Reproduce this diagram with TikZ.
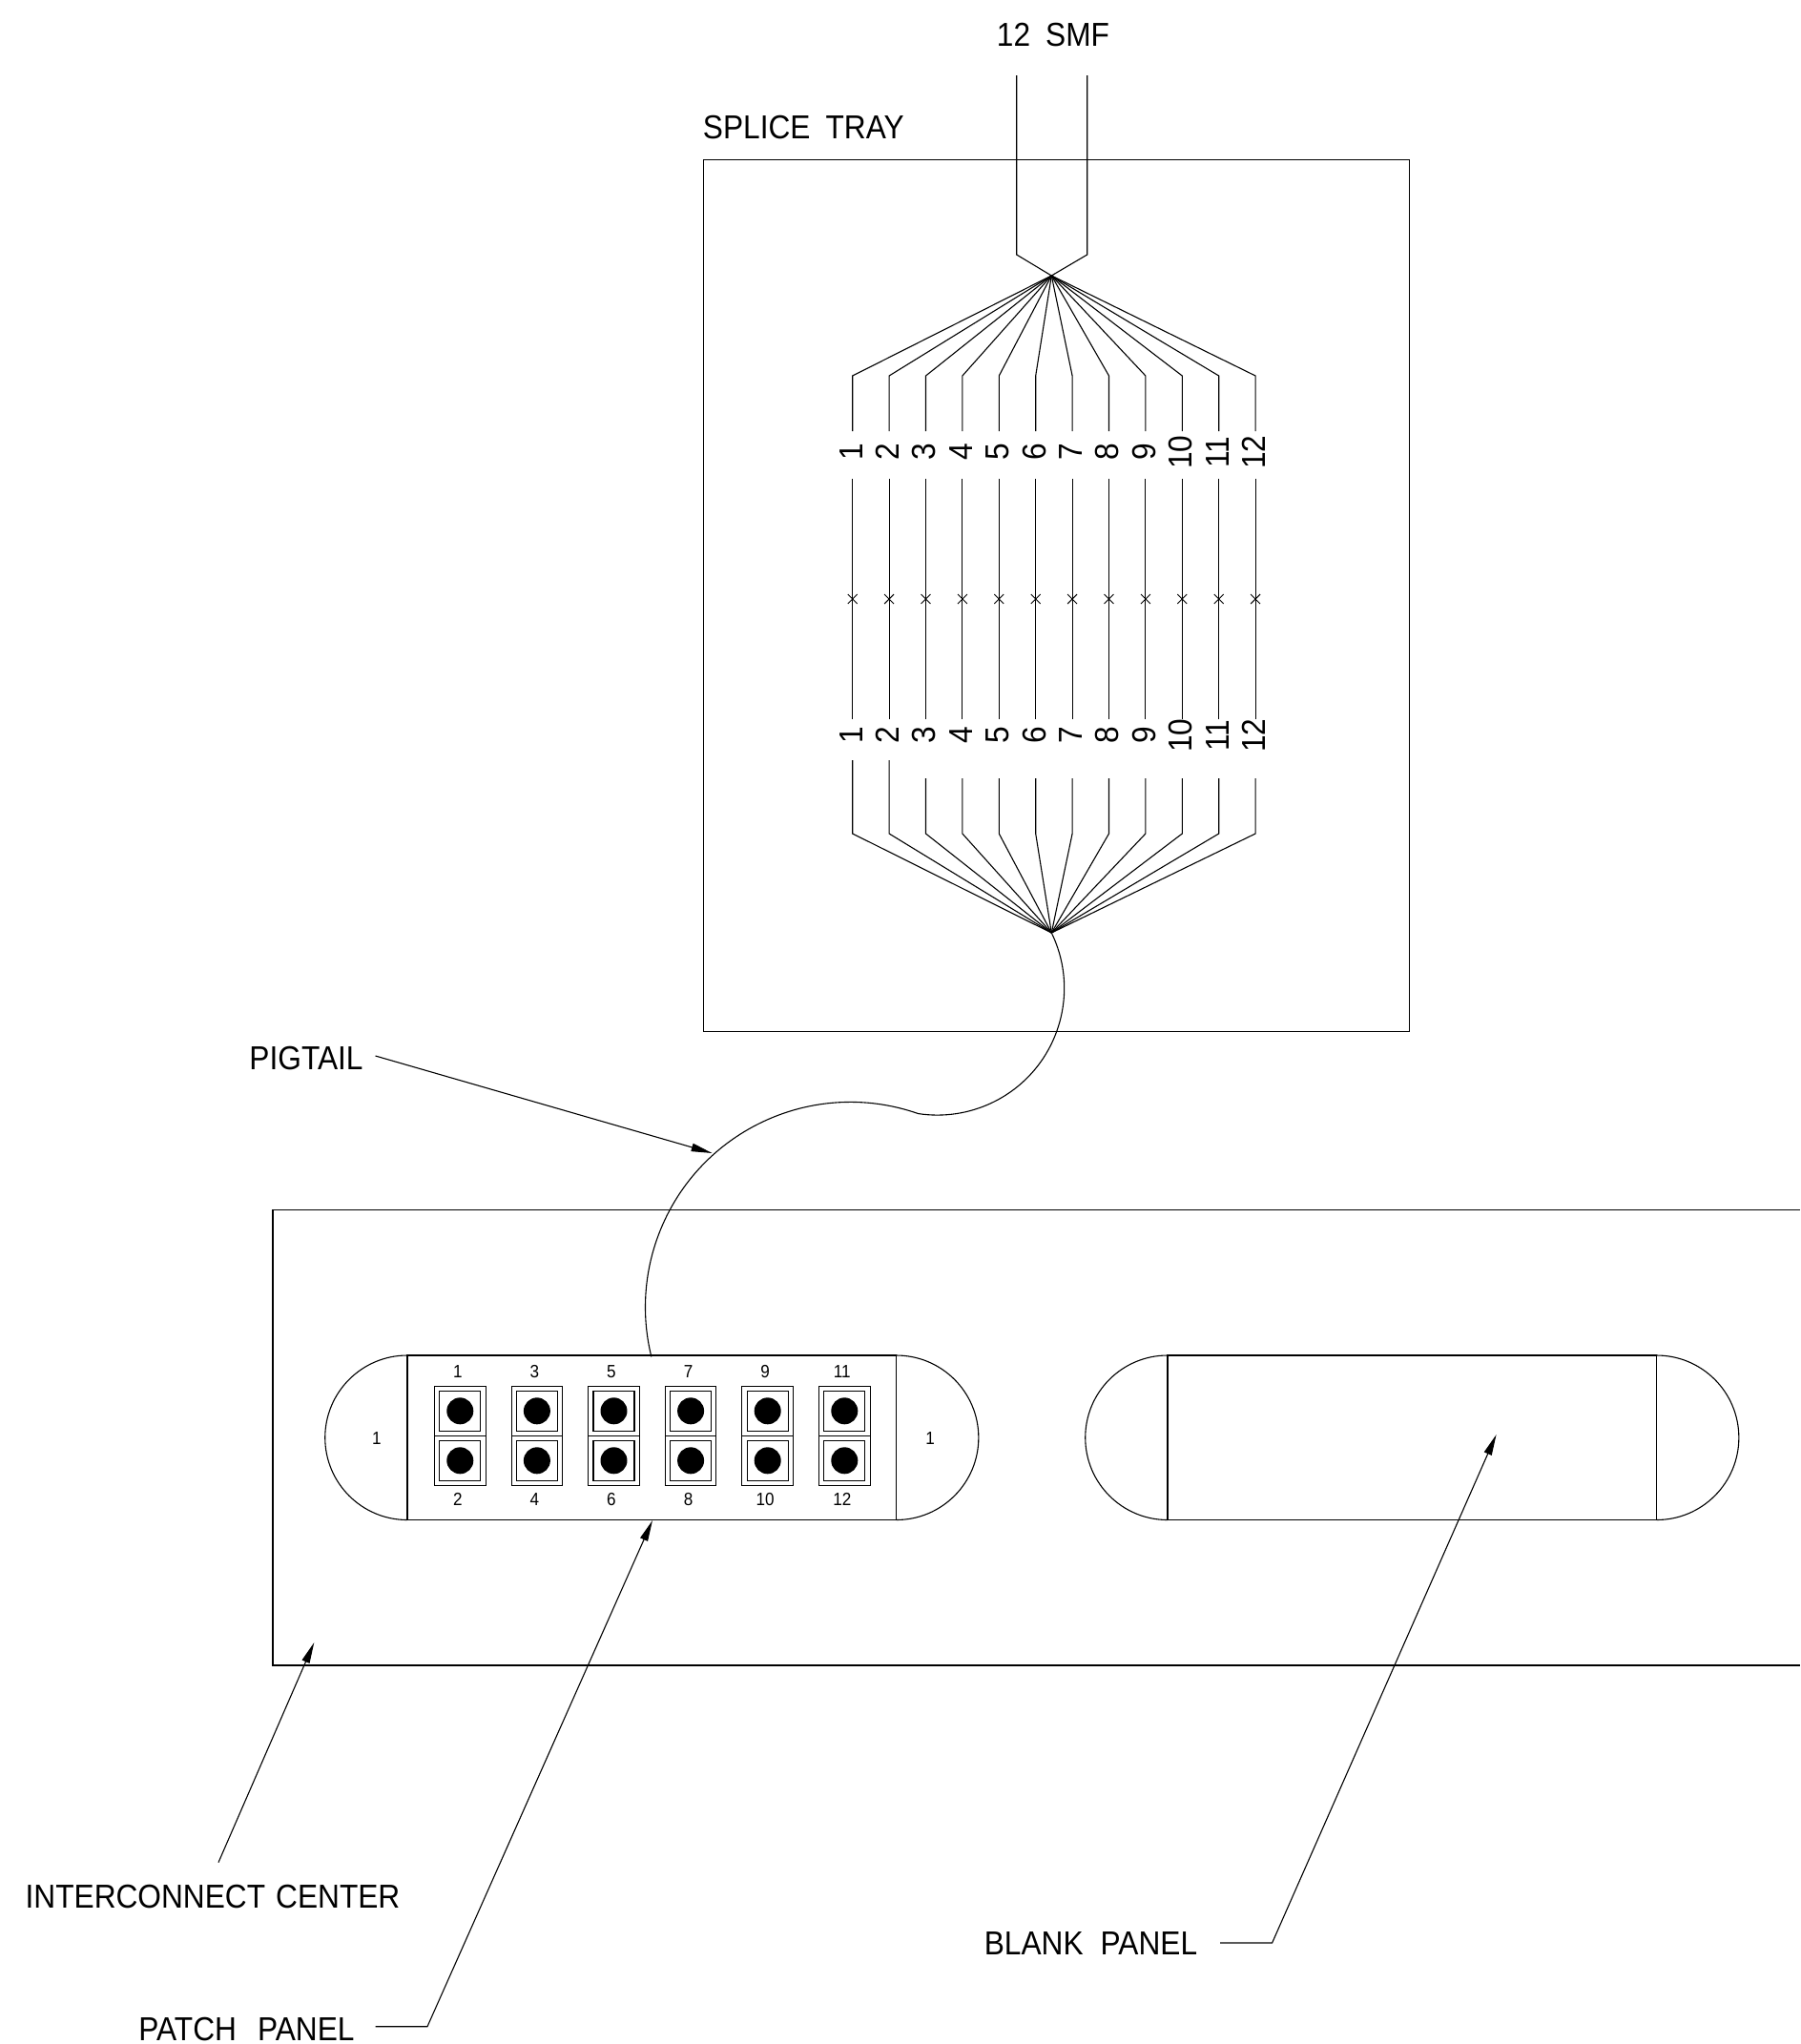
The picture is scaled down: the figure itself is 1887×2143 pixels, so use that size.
\documentclass[tikz,border=0pt]{standalone}
\usepackage{fontspec}
\setmainfont[FakeStretch=0.91]{Liberation Sans}
\usepackage{tikz}
\usetikzlibrary{arrows.meta,positioning,shapes.misc}
\tikzset{
  >={Stealth[length=11pt,width=4.2pt,inset=0pt]},
  wire/.style={draw=black,line width=0.55pt},
  arr/.style={->,draw=black,line width=0.55pt},
  lab/.style={font=\fontsize{17.4}{20}\selectfont,inner sep=0pt},
  numlab/.style={lab,rotate=90},
  tinylab/.style={font=\fontsize{9.4}{11}\selectfont,inner sep=0pt},
  splice/.style={draw=black,cross out,line width=0.45pt,minimum size=4.5pt,inner sep=0pt},
  portbox/.style={draw=black,line width=0.55pt,minimum width=26.8pt,minimum height=26pt,inner sep=0pt},
  portin/.style={draw=black,line width=0.55pt,minimum width=21.5pt,minimum height=21pt,inner sep=0pt},
  portdot/.style={circle,fill=black,minimum size=14pt,inner sep=0pt},
}
\begin{document}
\begin{tikzpicture}[x=0.5pt,y=-0.5pt]
\useasboundingbox (0,0) rectangle (1887,2143);
% splice tray
\node[lab] (smf) at (1104,37) {12\hspace{8pt}SMF};
\node[lab,anchor=west] (traylab) at (736.5,134) {SPLICE\hspace{8pt}TRAY};
\node[wire,draw,minimum width=370.3pt,minimum height=457pt,inner sep=0pt,anchor=north west] (tray) at (736.5,167) {};
\coordinate (hubtop) at (1102.3,289);
\coordinate (hubbot) at (1102.3,978);
\draw[wire] (1065.7,79)--(1065.7,267)--(hubtop);
\draw[wire] (1139.7,79)--(1139.7,267)--(hubtop);
\foreach \n in {1,...,12}{
  \pgfmathsetmacro{\fx}{893.7+38.4*(\n-1)}
  \node[numlab] (ta\n) at (\fx-1.5,474) {\n};
  \node[numlab] (tb\n) at (\fx-1.5,771) {\n};
  \node[splice] (sx\n) at (\fx,628) {};
  \draw[wire] (hubtop)--(\fx,394)--(\fx,452);
  \draw[wire] (\fx,502)--(\fx,754);
}
\foreach \n in {1,2}{
  \pgfmathsetmacro{\fx}{893.7+38.4*(\n-1)}
  \draw[wire] (\fx,797)--(\fx,874)--(hubbot);
}
\foreach \n in {3,...,12}{
  \pgfmathsetmacro{\fx}{893.7+38.4*(\n-1)}
  \draw[wire] (\fx,816)--(\fx,874)--(hubbot);
}
% pigtail
\draw[wire] (hubbot) arc[start angle=-25.9,end angle=98.7,radius=133]
  arc[start angle=-70.7,end angle=-194,radius=215];
\node[lab] (pigtail) at (321,1110) {PIGTAIL};
\coordinate (pigtip) at (746.6,1209);
\draw[arr] (393.5,1107)--(pigtip);
% interconnect center
\draw[wire] (1887,1268.5)--(286,1268.5)--(286,1746)--(1887,1746);
\node[lab] (iclab) at (223,1988) {INTERCONNECT\hspace{5.5pt}CENTER};
\draw[arr] (229,1952.6)--(329.3,1722);
% panels
\foreach \ox in {427,1224}{
  \draw[wire] (\ox,1421) rectangle (\ox+512.6,1593.5);
  \draw[wire] (\ox,1421) arc[start angle=-90,end angle=-270,radius=86.25];
  \draw[wire] (\ox+512.6,1421) arc[start angle=-90,end angle=90,radius=86.25];
}
\node[tinylab] (capl) at (395,1508) {1};
\node[tinylab] (capr) at (975,1508) {1};
\foreach \px/\a/\b in {482.3/1/2,562.9/3/4,643.5/5/6,724.1/7/8,804.7/9/10,885.3/11/12}{
  \node[portbox] (p\a) at (\px,1479.3) {};
  \node[portbox] (p\b) at (\px,1531.3) {};
  \node[portin] at (p\a) {};
  \node[portin] at (p\b) {};
  \node[portdot] at (p\a) {};
  \node[portdot] at (p\b) {};
  \node[tinylab] at (\px-2.5,1438) {\a};
  \node[tinylab] at (\px-2.5,1572) {\b};
}
% leaders
\node[lab] (pplab) at (258.5,2127) {PATCH\hspace{11pt}PANEL};
\coordinate (ppknee) at (448,2124.7);
\draw[arr] (393.5,2124.7)--(ppknee)--(684,1594);
\node[lab] (bplab) at (1143.5,2038) {BLANK\hspace{9pt}PANEL};
\coordinate (bpknee) at (1333.6,2037);
\draw[arr] (1279,2037)--(bpknee)--(1568.6,1504);
\end{tikzpicture}
\end{document}
